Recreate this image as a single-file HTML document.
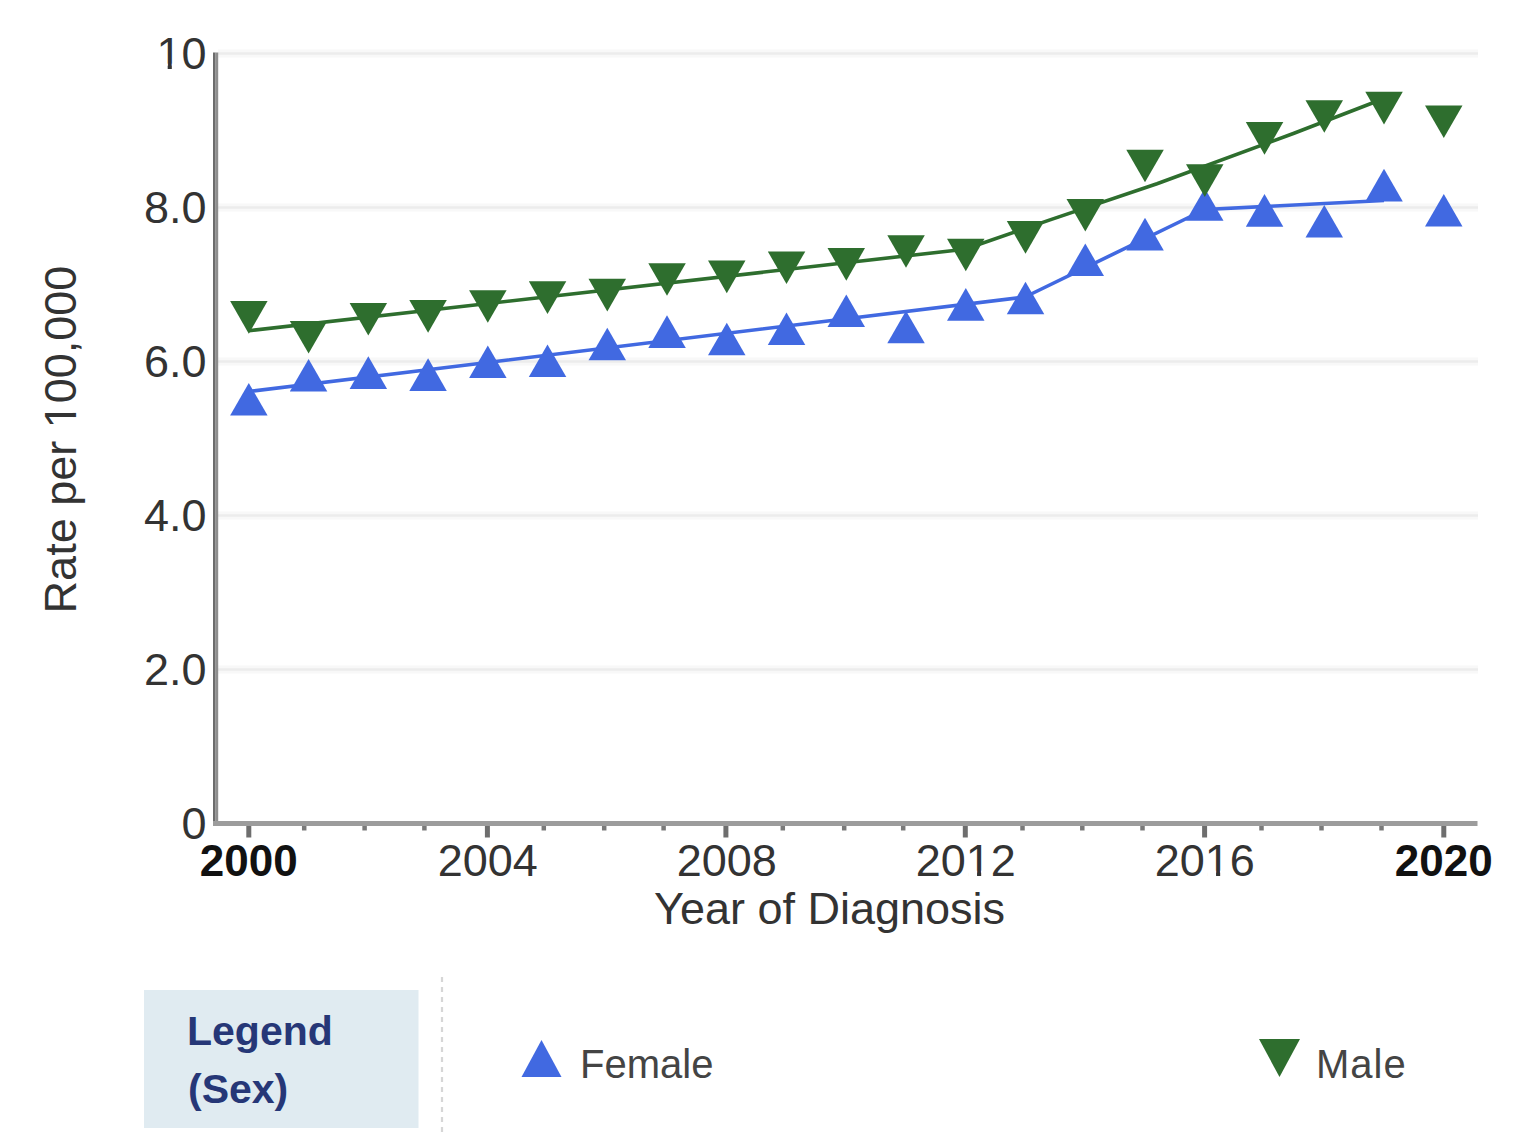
<!DOCTYPE html>
<html><head><meta charset="utf-8"><style>
html,body{margin:0;padding:0;background:#fff;}
body{width:1520px;height:1148px;overflow:hidden;}
svg{display:block;}
text{font-family:"Liberation Sans",sans-serif;}
.ax{font-size:45px;fill:#333;}
.axb{font-size:44px;fill:#111;font-weight:bold;}
.lg{font-size:41px;fill:#263777;font-weight:bold;}
.li{font-size:40px;fill:#444;}
</style></head><body>
<svg width="1520" height="1148" viewBox="0 0 1520 1148">
<line x1="218" y1="669.5" x2="1478" y2="669.5" stroke="#f8f8f8" stroke-width="8"/>
<line x1="218" y1="669.5" x2="1478" y2="669.5" stroke="#ececec" stroke-width="2.6"/>
<line x1="218" y1="515.5" x2="1478" y2="515.5" stroke="#f8f8f8" stroke-width="8"/>
<line x1="218" y1="515.5" x2="1478" y2="515.5" stroke="#ececec" stroke-width="2.6"/>
<line x1="218" y1="361.5" x2="1478" y2="361.5" stroke="#f8f8f8" stroke-width="8"/>
<line x1="218" y1="361.5" x2="1478" y2="361.5" stroke="#ececec" stroke-width="2.6"/>
<line x1="218" y1="207.5" x2="1478" y2="207.5" stroke="#f8f8f8" stroke-width="8"/>
<line x1="218" y1="207.5" x2="1478" y2="207.5" stroke="#ececec" stroke-width="2.6"/>
<line x1="218" y1="53.5" x2="1478" y2="53.5" stroke="#f8f8f8" stroke-width="8"/>
<line x1="218" y1="53.5" x2="1478" y2="53.5" stroke="#ececec" stroke-width="2.6"/>
<text x="206.5" y="838.5" text-anchor="end" class="ax">0</text>
<text x="206.5" y="684.5" text-anchor="end" class="ax">2.0</text>
<text x="206.5" y="530.5" text-anchor="end" class="ax">4.0</text>
<text x="206.5" y="376.5" text-anchor="end" class="ax">6.0</text>
<text x="206.5" y="222.5" text-anchor="end" class="ax">8.0</text>
<text x="206.5" y="68.5" text-anchor="end" class="ax">10</text>
<rect x="158.86" y="63.64" width="8.83" height="5.96" fill="#fff"/>
<rect x="171.81" y="63.64" width="8.59" height="5.96" fill="#fff"/>
<line x1="248.8" y1="824" x2="248.8" y2="837.5" stroke="#6e6e6e" stroke-width="5"/>
<line x1="304.2" y1="824" x2="304.2" y2="830.5" stroke="#7a7a7a" stroke-width="4.5"/>
<line x1="364.6" y1="824" x2="364.6" y2="830.5" stroke="#7a7a7a" stroke-width="4.5"/>
<line x1="424.4" y1="824" x2="424.4" y2="830.5" stroke="#7a7a7a" stroke-width="4.5"/>
<line x1="487.4" y1="824" x2="487.4" y2="837.5" stroke="#6e6e6e" stroke-width="5"/>
<line x1="543.8" y1="824" x2="543.8" y2="830.5" stroke="#7a7a7a" stroke-width="4.5"/>
<line x1="604.2" y1="824" x2="604.2" y2="830.5" stroke="#7a7a7a" stroke-width="4.5"/>
<line x1="663.6" y1="824" x2="663.6" y2="830.5" stroke="#7a7a7a" stroke-width="4.5"/>
<line x1="725.9" y1="824" x2="725.9" y2="837.5" stroke="#6e6e6e" stroke-width="5"/>
<line x1="782.8" y1="824" x2="782.8" y2="830.5" stroke="#7a7a7a" stroke-width="4.5"/>
<line x1="844.2" y1="824" x2="844.2" y2="830.5" stroke="#7a7a7a" stroke-width="4.5"/>
<line x1="903.2" y1="824" x2="903.2" y2="830.5" stroke="#7a7a7a" stroke-width="4.5"/>
<line x1="965.3" y1="824" x2="965.3" y2="837.5" stroke="#6e6e6e" stroke-width="5"/>
<line x1="1022.5" y1="824" x2="1022.5" y2="830.5" stroke="#7a7a7a" stroke-width="4.5"/>
<line x1="1082.3" y1="824" x2="1082.3" y2="830.5" stroke="#7a7a7a" stroke-width="4.5"/>
<line x1="1142.5" y1="824" x2="1142.5" y2="830.5" stroke="#7a7a7a" stroke-width="4.5"/>
<line x1="1204.6" y1="824" x2="1204.6" y2="837.5" stroke="#6e6e6e" stroke-width="5"/>
<line x1="1261.5" y1="824" x2="1261.5" y2="830.5" stroke="#7a7a7a" stroke-width="4.5"/>
<line x1="1321.5" y1="824" x2="1321.5" y2="830.5" stroke="#7a7a7a" stroke-width="4.5"/>
<line x1="1381.5" y1="824" x2="1381.5" y2="830.5" stroke="#7a7a7a" stroke-width="4.5"/>
<line x1="1443.8" y1="824" x2="1443.8" y2="837.5" stroke="#6e6e6e" stroke-width="5"/>
<line x1="214.3" y1="52.6" x2="214.3" y2="826" stroke="#6c6c6c" stroke-width="2.6"/>
<line x1="216.9" y1="52.6" x2="216.9" y2="826" stroke="#8e8e8e" stroke-width="2.6"/>
<line x1="213" y1="823.5" x2="1477.5" y2="823.5" stroke="#9c9c9c" stroke-width="5"/>
<text x="248.8" y="875.5" text-anchor="middle" class="axb">2000</text>
<text x="487.8" y="875.5" text-anchor="middle" class="ax">2004</text>
<text x="726.8" y="875.5" text-anchor="middle" class="ax">2008</text>
<text x="965.8" y="875.5" text-anchor="middle" class="ax">2012</text>
<rect x="968.22" y="870.64" width="8.83" height="5.96" fill="#fff"/>
<rect x="981.16" y="870.64" width="8.59" height="5.96" fill="#fff"/>
<text x="1204.8" y="875.5" text-anchor="middle" class="ax">2016</text>
<rect x="1207.22" y="870.64" width="8.83" height="5.96" fill="#fff"/>
<rect x="1220.16" y="870.64" width="8.59" height="5.96" fill="#fff"/>
<text x="1443.8" y="875.5" text-anchor="middle" class="axb">2020</text>
<text x="829.6" y="924" text-anchor="middle" class="ax">Year of Diagnosis</text>
<g transform="translate(76.4,439.5) rotate(-90)"><text x="0" y="0" text-anchor="middle" class="ax">Rate per 100,000</text><rect x="13.63" y="-4.86" width="8.83" height="5.96" fill="#fff"/><rect x="26.58" y="-4.86" width="8.59" height="5.96" fill="#fff"/></g>
<polyline points="248.8,391.5 1025.0,297.0 1205.0,209.5 1384.0,200.5" fill="none" stroke="#4169e1" stroke-width="3.6" stroke-linejoin="round"/>
<polyline points="248.8,330.7 965.0,249.2 1050.0,219.9 1157.0,183.7 1294.0,133.2 1384.0,98.5" fill="none" stroke="#2e6e2e" stroke-width="3.6" stroke-linejoin="round"/>
<polygon points="248.8,382.9 267.6,415.5 230.1,415.5" fill="#4169e1"/>
<polygon points="308.6,359.0 327.3,391.6 289.8,391.6" fill="#4169e1"/>
<polygon points="368.3,356.3 387.1,388.9 349.6,388.9" fill="#4169e1"/>
<polygon points="428.1,358.3 446.8,390.9 409.3,390.9" fill="#4169e1"/>
<polygon points="487.8,345.5 506.6,378.1 469.1,378.1" fill="#4169e1"/>
<polygon points="547.5,344.5 566.3,377.1 528.8,377.1" fill="#4169e1"/>
<polygon points="607.3,327.7 626.0,360.3 588.5,360.3" fill="#4169e1"/>
<polygon points="667.0,315.3 685.8,347.9 648.3,347.9" fill="#4169e1"/>
<polygon points="726.8,322.7 745.5,355.3 708.0,355.3" fill="#4169e1"/>
<polygon points="786.5,312.4 805.3,345.0 767.8,345.0" fill="#4169e1"/>
<polygon points="846.3,294.5 865.0,327.1 827.5,327.1" fill="#4169e1"/>
<polygon points="906.0,310.7 924.8,343.3 887.3,343.3" fill="#4169e1"/>
<polygon points="965.8,288.1 984.5,320.7 947.0,320.7" fill="#4169e1"/>
<polygon points="1025.5,281.7 1044.3,314.3 1006.8,314.3" fill="#4169e1"/>
<polygon points="1085.3,243.4 1104.0,276.0 1066.5,276.0" fill="#4169e1"/>
<polygon points="1145.0,217.8 1163.8,250.4 1126.3,250.4" fill="#4169e1"/>
<polygon points="1204.8,188.2 1223.5,220.8 1186.0,220.8" fill="#4169e1"/>
<polygon points="1264.5,194.1 1283.3,226.7 1245.8,226.7" fill="#4169e1"/>
<polygon points="1324.3,205.0 1343.0,237.6 1305.5,237.6" fill="#4169e1"/>
<polygon points="1384.0,168.8 1402.8,201.4 1365.3,201.4" fill="#4169e1"/>
<polygon points="1443.8,194.0 1462.5,226.6 1425.0,226.6" fill="#4169e1"/>
<polygon points="230.1,301.1 267.6,301.1 248.8,333.7" fill="#2e6e2e"/>
<polygon points="289.8,321.0 327.3,321.0 308.6,353.6" fill="#2e6e2e"/>
<polygon points="349.6,303.0 387.1,303.0 368.3,335.6" fill="#2e6e2e"/>
<polygon points="409.3,300.1 446.8,300.1 428.1,332.7" fill="#2e6e2e"/>
<polygon points="469.1,290.2 506.6,290.2 487.8,322.8" fill="#2e6e2e"/>
<polygon points="528.8,281.3 566.3,281.3 547.5,313.9" fill="#2e6e2e"/>
<polygon points="588.5,278.8 626.0,278.8 607.3,311.4" fill="#2e6e2e"/>
<polygon points="648.3,263.2 685.8,263.2 667.0,295.8" fill="#2e6e2e"/>
<polygon points="708.0,260.6 745.5,260.6 726.8,293.2" fill="#2e6e2e"/>
<polygon points="767.8,251.4 805.3,251.4 786.5,284.0" fill="#2e6e2e"/>
<polygon points="827.5,248.1 865.0,248.1 846.3,280.7" fill="#2e6e2e"/>
<polygon points="887.3,235.2 924.8,235.2 906.0,267.8" fill="#2e6e2e"/>
<polygon points="947.0,238.7 984.5,238.7 965.8,271.3" fill="#2e6e2e"/>
<polygon points="1006.8,221.1 1044.3,221.1 1025.5,253.7" fill="#2e6e2e"/>
<polygon points="1066.5,199.0 1104.0,199.0 1085.3,231.6" fill="#2e6e2e"/>
<polygon points="1126.3,149.7 1163.8,149.7 1145.0,182.3" fill="#2e6e2e"/>
<polygon points="1186.0,164.3 1223.5,164.3 1204.8,196.9" fill="#2e6e2e"/>
<polygon points="1245.8,122.1 1283.3,122.1 1264.5,154.7" fill="#2e6e2e"/>
<polygon points="1305.5,100.2 1343.0,100.2 1324.3,132.8" fill="#2e6e2e"/>
<polygon points="1365.3,91.8 1402.8,91.8 1384.0,124.4" fill="#2e6e2e"/>
<polygon points="1425.0,105.5 1462.5,105.5 1443.8,138.1" fill="#2e6e2e"/>
<rect x="144" y="990" width="274.5" height="138" fill="#e0ebf1"/>
<text x="187" y="1045" class="lg">Legend</text>
<text x="188" y="1102.5" class="lg">(Sex)</text>
<line x1="442" y1="977" x2="442" y2="1134" stroke="#d6d6d6" stroke-width="2.2" stroke-dasharray="5,5"/>
<polygon points="521.5,1077 561.5,1077 541.5,1040" fill="#4169e1"/>
<text x="580" y="1078" class="li">Female</text>
<polygon points="1259,1039 1300,1039 1279.5,1077" fill="#2e6e2e"/>
<text x="1316" y="1078" class="li" letter-spacing="1">Male</text>
</svg>
</body></html>
